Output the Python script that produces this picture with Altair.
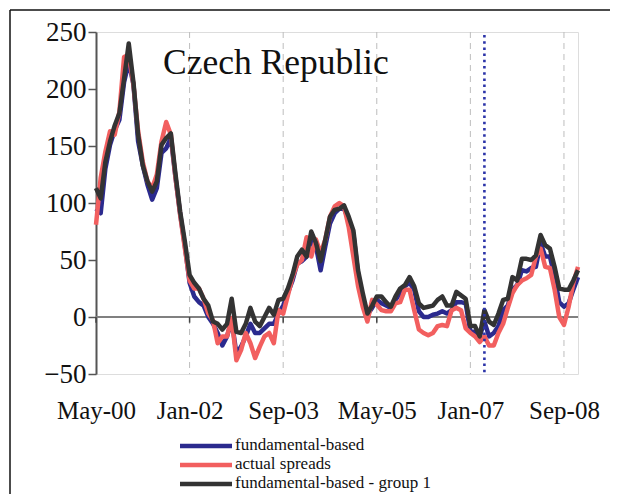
import altair as alt
import pandas as pd

# ---- data (monthly, May-00 .. Dec-08; index 0 = May-00) ----
months = list(range(104))
tick_months = [0, 20, 40, 60, 80, 100]
tick_labels = ["May-00", "Jan-02", "Sep-03", "May-05", "Jan-07", "Sep-08"]
y_ticks = [-50, 0, 50, 100, 150, 200, 250]
series_names = ["fundamental-based", "actual spreads", "fundamental-based - group 1"]
marker_month = [83]

fundamental = [
    95, 91, 130, 151, 164, 173, 206, 224, 204, 154,
    133, 116, 103, 113, 144, 148, 157, 122, 90, 62,
    30, 18, 13, 10, 0, -6, -14, -25, -17, -3,
    -32, -26, -17, -6, -14, -14, -10, -6, -6, 3,
    10, 21, 32, 47, 49, 53, 68, 62, 41, 62,
    82, 91, 95, 95, 85, 73, 38, 15, 2, 8,
    15, 12, 10, 8, 15, 21, 27, 30, 24, 5,
    0, 0, 2, 3, 5, 3, 6, 13, 13, 12,
    -13, -13, -17, -4, -17, -14, -8, 6, 10, 24,
    28, 41, 40, 43, 44, 65, 53, 53, 35, 13,
    9, 12, 24, 35,
]
actual = [
    81, 122, 145, 163, 160, 180, 228, 230, 204, 163,
    136, 119, 113, 125, 154, 171, 160, 122, 89, 60,
    32, 25, 25, 16, 3, -3, -23, -17, -17, -1,
    -38, -29, -14, -23, -36, -26, -17, -14, -23, 6,
    3, 19, 35, 46, 50, 70, 53, 68, 56, 68,
    88, 97, 100, 97, 79, 53, 27, 9, -4, 15,
    11, 6, 5, 5, 12, 13, 24, 24, 6, -11,
    -14, -16, -14, -8, -7, -8, 6, 8, 6, -10,
    -14, -17, -22, -17, -25, -25, -14, -6, 8, 21,
    28, 32, 34, 37, 53, 60, 44, 43, 24, 0,
    -7, 9, 30, 44,
]
group1 = [
    113, 104, 136, 154, 168, 179, 209, 240, 206, 160,
    133, 119, 110, 119, 151, 157, 161, 125, 92, 66,
    37, 30, 25, 16, 10, -4, -6, -11, -6, 16,
    -13, -14, -6, 8, -4, -8, 0, 8, 2, 15,
    16, 25, 37, 53, 59, 53, 75, 65, 49, 68,
    88, 94, 95, 98, 88, 76, 41, 21, 3, 10,
    18, 18, 13, 9, 18, 25, 28, 35, 27, 12,
    8, 9, 10, 15, 18, 10, 10, 22, 19, 16,
    -8, -8, -17, 6, -4, -7, 3, 15, 16, 35,
    32, 51, 51, 50, 54, 72, 63, 60, 44, 25,
    24, 24, 32, 41,
]

rows = []
for name, vals in zip(series_names, [fundamental, actual, group1]):
    for m, v in zip(months, vals):
        rows.append({"m": m, "v": v, "series": name})
df = pd.DataFrame(rows)

SERIF = "Liberation Serif"
BLUE = "#2b2a8e"
RED = "#f25f5f"
DARK = "#333333"
colors = [BLUE, RED, DARK]
widths = [4.5, 4.5, 2.0]

label_expr = " : ".join(
    f"datum.value == {m} ? '{t}'" for m, t in zip(tick_months, tick_labels)
) + " : ''"

x_scale = alt.Scale(domain=[0, 103], nice=False, zero=False)
y_scale = alt.Scale(domain=[-50, 250], nice=False, zero=False)

x_axis = alt.Axis(
    values=tick_months, labelExpr=label_expr, grid=False, ticks=False,
    domain=False, labelFont=SERIF, labelFontSize=25, labelColor="#111",
    labelPadding=24, labelFlush=False, labelOverlap=False, title=None,
)
y_axis = alt.Axis(
    values=y_ticks, grid=False, tickSize=8, tickColor="#555", tickWidth=1.5,
    domainColor="#555", domainWidth=2, labelFont=SERIF, labelFontSize=27,
    labelColor="#111", labelPadding=2, title=None,
)

color = alt.Color(
    "series:N",
    scale=alt.Scale(domain=series_names, range=colors),
    legend=None,
)
stroke_w = alt.StrokeWidth(
    "series:N",
    scale=alt.Scale(domain=series_names, range=widths),
    legend=None,
)

base = alt.Chart(df)

def series_layer(name):
    return base.transform_filter(alt.datum.series == name).mark_line(
        strokeJoin="round"
    ).encode(
        x=alt.X("m:Q", scale=x_scale, axis=x_axis),
        y=alt.Y("v:Q", scale=y_scale, axis=y_axis),
        color=color,
        strokeWidth=stroke_w,
    )

grid_df = pd.DataFrame({"m": tick_months[1:]})
grid = alt.Chart(grid_df).mark_rule(
    color="#bdbdbd", strokeWidth=1, strokeDash=[6, 5]
).encode(x=alt.X("m:Q", scale=x_scale), y=alt.value(0), y2=alt.value(342))

zero_df = pd.DataFrame({"z": [0]})
zero = alt.Chart(zero_df).mark_rule(color="#808080", strokeWidth=2).encode(
    y=alt.Y("z:Q", scale=y_scale), x=alt.value(0), x2=alt.value(482)
)

zt_df = pd.DataFrame({"m": tick_months, "a": [0] * 6, "b": [-5] * 6})
zero_ticks = alt.Chart(zt_df).mark_rule(color="#444", strokeWidth=1.5).encode(
    x=alt.X("m:Q", scale=x_scale),
    y=alt.Y("a:Q", scale=y_scale),
    y2="b:Q",
)

mk_df = pd.DataFrame({"m": marker_month})
marker = alt.Chart(mk_df).mark_rule(
    color="#2b33a8", strokeWidth=2.6, strokeDash=[2.5, 3.7]
).encode(x=alt.X("m:Q", scale=x_scale), y=alt.value(3), y2=alt.value(342))

title_df = pd.DataFrame({"t": ["Czech Republic"]})
title = alt.Chart(title_df).mark_text(
    font=SERIF, fontSize=35.5, align="left", baseline="alphabetic", color="#111"
).encode(text="t:N", x=alt.value(67), y=alt.value(42))

frame_df = pd.DataFrame({"k": [0]})
frame_left = alt.Chart(frame_df).mark_rule(color="#111", strokeWidth=1.5).encode(
    x=alt.value(-86), y=alt.value(-22), y2=alt.value(480)
)
frame_top = alt.Chart(frame_df).mark_rule(color="#111", strokeWidth=1.5).encode(
    x=alt.value(-86), x2=alt.value(560), y=alt.value(-22)
)

# ---- manual legend (line swatch + label per series) ----
legend_layers = []
legend_rows_y = [414, 433, 452]
for name, ry in zip(series_names, legend_rows_y):
    ldf = pd.DataFrame({"series": [name]})
    legend_layers.append(
        alt.Chart(ldf).mark_rule(strokeCap="butt").encode(
            x=alt.value(84), x2=alt.value(136), y=alt.value(ry),
            color=color, strokeWidth=stroke_w,
        )
    )
    legend_layers.append(
        alt.Chart(ldf).mark_text(
            font=SERIF, fontSize=17, align="left", baseline="middle", color="#111"
        ).encode(text="series:N", x=alt.value(139), y=alt.value(ry - 1))
    )

chart = alt.layer(
    frame_left, frame_top, grid, zero, zero_ticks,
    series_layer(series_names[0]),
    series_layer(series_names[1]),
    series_layer(series_names[2]),
    marker, title, *legend_layers,
).properties(
    width=482, height=342,
    padding={"left": 88, "top": 24, "right": 32, "bottom": 120},
    autosize=alt.AutoSizeParams(type="none"),
).configure_view(
    stroke="#a0a0a0", strokeWidth=1.5
).configure(background="white")

chart.save("out.html", embed_options={"renderer": "svg", "actions": False})
